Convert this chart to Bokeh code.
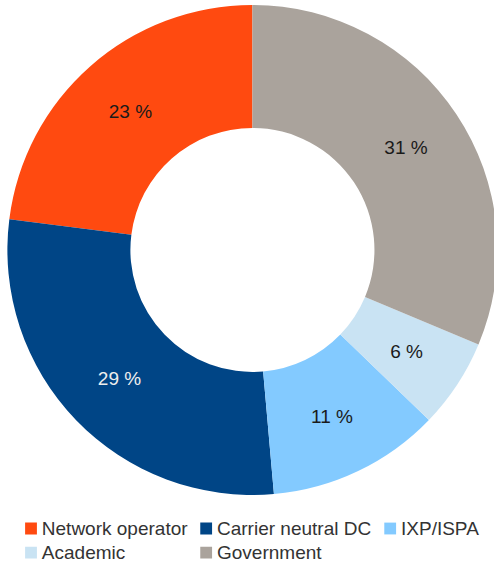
import math
from bokeh.plotting import figure
from bokeh.models import Range1d, ColumnDataSource
from bokeh.core.properties import value
from bokeh.embed import file_html
from bokeh.resources import INLINE

# ---- data ----
categories = ["Network operator", "Carrier neutral DC", "IXP/ISPA", "Academic", "Government"]
shares = [23.0, 28.4, 11.4, 5.9, 31.3]
labels = ["23 %", "29 %", "11 %", "6 %", "31 %"]

# ---- styles ----
colors = ["#FF4A10", "#004586", "#83CAFF", "#C9E3F3", "#AAA39C"]
label_colors = ["#1a1a1a", "#eeeeee", "#1a1a1a", "#1a1a1a", "#1a1a1a"]
FONT = "Liberation Sans"

W, H = 494, 564
p = figure(width=W, height=H, output_backend="svg", toolbar_location=None,
           x_range=Range1d(0, 502), y_range=Range1d(0, 572),
           x_axis_type=None, y_axis_type=None, min_border=0)
p.grid.visible = False
p.outline_line_color = None
p.background_fill_color = "white"

cx, cy = 256, 319
r_out, r_in = 249, 124

total = sum(shares)
starts, ends, mids = [], [], []
a = math.pi / 2
for s in shares:
    span = 2 * math.pi * s / total
    starts.append(a)
    ends.append(a + span)
    mids.append(a + span / 2)
    a += span

src = ColumnDataSource(dict(start=starts, end=ends, color=colors))
p.annular_wedge(x=cx, y=cy, inner_radius=r_in, outer_radius=r_out,
                start_angle="start", end_angle="end", direction="anticlock",
                fill_color="color", line_color=None, source=src)

r_lab = (r_in + r_out) / 2 + 1
lx = [cx + r_lab * math.cos(m) for m in mids]
ly = [cy + r_lab * math.sin(m) for m in mids]
lsrc = ColumnDataSource(dict(x=lx, y=ly, t=labels, c=label_colors))
p.text(x="x", y="y", text="t", text_color="c", source=lsrc,
       text_align="center", text_baseline="middle",
       text_font=value(FONT), text_font_size="19px")

# ---- legend (manual, 3 columns) ----
col_x = [31, 209, 396]
row_y = [36.5, 12]
sq_x, sq_y, tx, ty = [], [], [], []
for i, _ in enumerate(categories):
    r, c = divmod(i, 3)
    sq_x.append(col_x[c])
    sq_y.append(row_y[r])
    tx.append(col_x[c] + 11)
    ty.append(row_y[r])
p.rect(x=sq_x, y=sq_y, width=12, height=12, fill_color=colors, line_color=None)
p.text(x=tx, y=ty, text=categories, text_color="#333333",
       text_align="left", text_baseline="middle",
       text_font=value(FONT), text_font_size="19px")

open("out.html", "w").write(file_html(p, INLINE))
